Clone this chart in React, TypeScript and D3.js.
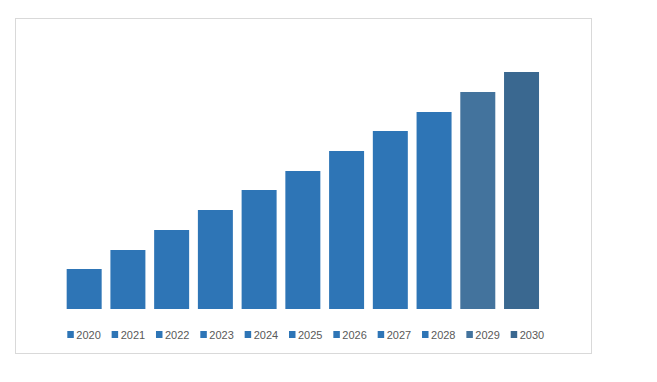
import React from "react";
import * as d3 from "d3";

const years = ["2020","2021","2022","2023","2024","2025","2026","2027","2028","2029","2030"];
const values = [40, 59, 79, 99, 119, 138, 158, 178, 197, 217, 237];
const colors = ["#2E75B6","#2E75B6","#2E75B6","#2E75B6","#2E75B6","#2E75B6","#2E75B6","#2E75B6","#2E75B6","#43739D","#3A6890"];

export default function App() {
  const W = 657, H = 382;
  const x = d3.scaleBand<string>().domain(years).range([62.3, 543.4]).paddingInner(0.2).paddingOuter(0.1);
  const y = d3.scaleLinear().domain([0, 237]).range([309, 72]);
  const lx = d3.scalePoint<string>().domain(years).range([67.3, 510.7]);
  return (
    <svg width={W} height={H} style={{ position: "absolute", left: 0, top: 0, background: "#fff" }}>
      <rect x={15.5} y={18.5} width={576} height={335} fill="#fff" stroke="#D9D9D9" strokeWidth={1} />
      {years.map((yr, i) => (
        <rect key={yr} x={x(yr)} y={y(values[i])} width={x.bandwidth()} height={y(0) - y(values[i])} fill={colors[i]} />
      ))}
      {years.map((yr, i) => (
        <g key={"l" + yr} transform={`translate(${lx(yr)},0)`}>
          <rect x={0} y={331} width={6.5} height={7} fill={colors[i]} />
          <text x={9} y={338.5} fontSize={11} fontFamily="'Liberation Sans', Arial, sans-serif" fill="#595959">{yr}</text>
        </g>
      ))}
    </svg>
  );
}
